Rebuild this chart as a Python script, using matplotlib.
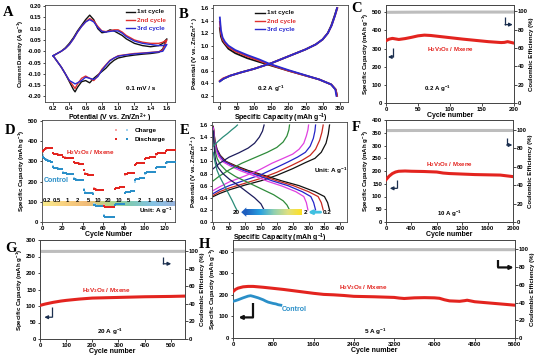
import numpy as np
import matplotlib
matplotlib.use("Agg")
import matplotlib.pyplot as plt
from matplotlib.colors import LinearSegmentedColormap

plt.rcParams['font.family'] = ['Liberation Sans', 'DejaVu Sans']
plt.rcParams['font.weight'] = 'bold'
plt.rcParams['axes.labelweight'] = 'bold'
plt.rcParams['font.size'] = 4.5
plt.rcParams['mathtext.fontset'] = 'custom'
plt.rcParams['mathtext.rm'] = 'Liberation Sans:bold'
plt.rcParams['mathtext.default'] = 'rm'

RED = '#e3241f'
BLUE = '#2a8fc8'
GRAY = '#bdbdbd'
NAVY = '#1b2f4f'
MAT = 'H$_2$V$_3$O$_8$ / Mxene'
CAP = 'Specific Capacity (mAh g$^{-1}$)'
CE = 'Coulombic Efficiency (%)'
TICK = 4.2
YLAB = 4.4
XLAB = 5.0
TXT = 4.6

# ---------- A: CV ----------
cv_pot = [0.2, 0.25, 0.3, 0.35, 0.4, 0.45, 0.5, 0.55, 0.6, 0.65, 0.7, 0.75, 0.8, 0.85, 0.9, 0.95, 1.0, 1.05, 1.1,
          1.2, 1.3, 1.4, 1.5, 1.55, 1.6,
          1.55, 1.5, 1.4, 1.3, 1.2, 1.1, 1.0, 0.95, 0.9, 0.85, 0.8, 0.75, 0.7, 0.65, 0.6, 0.55, 0.5, 0.47, 0.45,
          0.4, 0.35, 0.3, 0.25, 0.2]
cv_1st = [-0.02, -0.01, 0.0, 0.015, 0.035, 0.06, 0.09, 0.115, 0.14, 0.16, 0.14, 0.1, 0.082, 0.085, 0.095, 0.09, 0.08,
          0.07, 0.055, 0.035, 0.025, 0.02, 0.025, 0.035, 0.055,
          0.01, -0.005, -0.01, -0.013, -0.017, -0.022, -0.03, -0.04, -0.055, -0.075, -0.09, -0.105, -0.12, -0.14,
          -0.13, -0.135, -0.16, -0.18, -0.17, -0.135, -0.1, -0.07, -0.045, -0.02]
cv_2nd = [-0.02, -0.01, 0.0, 0.012, 0.03, 0.055, 0.085, 0.11, 0.13, 0.145, 0.135, 0.11, 0.09, 0.087, 0.09, 0.095, 0.095,
          0.085, 0.07, 0.05, 0.04, 0.035, 0.035, 0.04, 0.05,
          0.005, -0.002, -0.005, -0.008, -0.01, -0.015, -0.02, -0.03, -0.04, -0.06, -0.08, -0.11, -0.13, -0.12,
          -0.11, -0.12, -0.145, -0.165, -0.155, -0.13, -0.1, -0.07, -0.045, -0.02]
cv_3rd = [-0.02, -0.01, 0.0, 0.012, 0.03, 0.055, 0.085, 0.11, 0.13, 0.14, 0.13, 0.105, 0.088, 0.085, 0.088, 0.09, 0.09,
          0.08, 0.065, 0.045, 0.035, 0.03, 0.025, 0.025, 0.03,
          0.0, -0.003, -0.006, -0.009, -0.012, -0.016, -0.022, -0.03, -0.042, -0.062, -0.085, -0.112, -0.125, -0.12,
          -0.115, -0.13, -0.14, -0.145, -0.14, -0.13, -0.1, -0.07, -0.045, -0.02]

# ---------- B: GCD 0.2 A/g ----------
b_dis_cap = [[0, 3, 8, 15, 25, 45, 80, 115, 145, 200, 245, 290, 325, 338, 342],
             [0, 3, 8, 15, 25, 45, 80, 115, 145, 200, 245, 290, 325, 338, 342],
             [0, 3, 8, 15, 25, 45, 80, 115, 145, 200, 245, 290, 325, 337, 340]]
b_dis_v = [[1.28, 1.15, 1.07, 1.02, 0.95, 0.88, 0.8, 0.74, 0.69, 0.6, 0.53, 0.46, 0.38, 0.3, 0.2],
           [1.38, 1.2, 1.1, 1.04, 0.98, 0.91, 0.83, 0.76, 0.7, 0.6, 0.53, 0.46, 0.38, 0.3, 0.2],
           [1.45, 1.25, 1.13, 1.06, 1.0, 0.93, 0.85, 0.78, 0.71, 0.61, 0.535, 0.46, 0.38, 0.3, 0.2]]
b_chg_cap = [[0, 10, 30, 60, 100, 150, 200, 250, 280, 300, 315, 325, 335, 342],
             [0, 10, 30, 60, 100, 150, 200, 250, 280, 300, 315, 326, 336, 343],
             [0, 10, 30, 60, 100, 150, 200, 250, 280, 300, 315, 326, 336, 342]]
b_chg_v = [[0.43, 0.47, 0.52, 0.57, 0.63, 0.72, 0.83, 0.94, 1.02, 1.1, 1.2, 1.32, 1.48, 1.6],
           [0.44, 0.48, 0.52, 0.57, 0.63, 0.72, 0.83, 0.94, 1.02, 1.1, 1.2, 1.32, 1.48, 1.6],
           [0.43, 0.47, 0.52, 0.57, 0.63, 0.72, 0.83, 0.94, 1.02, 1.1, 1.2, 1.32, 1.48, 1.6]]
cycle_labels = ['1st cycle', '2nd cycle', '3rd cycle']
cycle_colors = ['#111111', '#e03030', '#2a2ad0']

# ---------- C: 0.2 A/g cycling ----------
c_cyc = [1, 5, 10, 15, 20, 30, 40, 50, 60, 70, 80, 90, 100, 120, 140, 160, 180, 185, 190, 195, 200]
c_cap = [345, 352, 356, 353, 350, 355, 362, 370, 374, 372, 368, 364, 360, 352, 345, 338, 333, 334, 338, 334, 330]
c_ce_cyc = [1, 50, 100, 150, 200]
c_ce = [99, 99.2, 99.3, 99.3, 99.3]

# ---------- D: rate ----------
d_rates = ['0.2', '0.5', '1', '2', '5', '10', '20', '10', '5', '2', '1', '0.5', '0.2']
d_mx_dis = [[352, 358, 362, 364, 365, 366, 366, 365, 365, 364],
            [340, 337, 336, 335, 335, 334, 334, 334, 333, 333],
            [322, 319, 318, 318, 317, 317, 317, 316, 316, 316],
            [296, 292, 291, 290, 290, 289, 289, 289, 288, 288],
            [255, 240, 237, 236, 235, 235, 234, 234, 234, 234],
            [165, 161, 160, 160, 159, 159, 159, 159, 158, 158],
            [80, 74, 73, 73, 72, 72, 72, 72, 72, 72],
            [165, 168, 169, 170, 170, 171, 171, 171, 172, 172],
            [236, 239, 240, 241, 241, 242, 242, 242, 243, 243],
            [284, 288, 290, 291, 291, 292, 292, 292, 293, 293],
            [314, 317, 318, 319, 319, 320, 320, 320, 321, 321],
            [336, 339, 340, 341, 341, 342, 342, 342, 343, 343],
            [352, 355, 357, 358, 358, 358, 357, 357, 356, 355]]
d_mx_chg = [[348, 356, 360, 363, 364, 365, 365, 365, 364, 364],
            [342, 338, 337, 336, 335, 335, 334, 334, 334, 333],
            [324, 320, 319, 318, 318, 317, 317, 317, 316, 316],
            [298, 293, 291, 291, 290, 290, 289, 289, 289, 288],
            [258, 242, 238, 236, 236, 235, 235, 234, 234, 234],
            [168, 162, 161, 160, 160, 159, 159, 159, 159, 158],
            [84, 75, 74, 73, 73, 72, 72, 72, 72, 72],
            [162, 168, 169, 170, 170, 171, 171, 171, 171, 172],
            [233, 239, 240, 241, 241, 242, 242, 242, 242, 243],
            [281, 288, 290, 291, 291, 292, 292, 292, 292, 293],
            [312, 317, 318, 319, 319, 320, 320, 320, 320, 321],
            [334, 339, 340, 341, 341, 342, 342, 342, 342, 343],
            [350, 355, 357, 358, 358, 358, 357, 357, 356, 355]]
d_ct_dis = [[322, 316, 312, 309, 306, 304, 302, 300, 298, 297],
            [272, 268, 266, 265, 265, 264, 264, 264, 263, 263],
            [245, 242, 241, 240, 240, 239, 239, 239, 238, 238],
            [214, 211, 210, 210, 209, 209, 209, 208, 208, 208],
            [160, 146, 144, 143, 143, 142, 142, 142, 142, 141],
            [86, 82, 81, 81, 80, 80, 80, 80, 80, 80],
            [30, 26, 25, 25, 25, 24, 24, 24, 24, 24],
            [85, 88, 89, 90, 90, 90, 91, 91, 91, 91],
            [146, 149, 150, 151, 151, 151, 152, 152, 152, 152],
            [208, 212, 214, 215, 215, 216, 216, 216, 217, 217],
            [242, 245, 246, 247, 247, 248, 248, 248, 248, 249],
            [267, 270, 271, 272, 272, 273, 273, 273, 273, 274],
            [292, 295, 296, 297, 297, 297, 297, 297, 296, 296]]
d_ct_chg = [[330, 318, 313, 310, 307, 305, 303, 301, 299, 298],
            [275, 269, 267, 266, 265, 265, 264, 264, 264, 263],
            [248, 243, 241, 240, 240, 240, 239, 239, 239, 238],
            [217, 212, 211, 210, 210, 209, 209, 209, 208, 208],
            [165, 148, 145, 144, 143, 143, 142, 142, 142, 142],
            [90, 83, 82, 81, 81, 80, 80, 80, 80, 80],
            [34, 27, 26, 25, 25, 25, 24, 24, 24, 24],
            [82, 87, 89, 90, 90, 90, 90, 91, 91, 91],
            [143, 149, 150, 151, 151, 151, 152, 152, 152, 152],
            [200, 211, 214, 215, 215, 216, 216, 216, 216, 217],
            [240, 245, 246, 247, 247, 248, 248, 248, 248, 249],
            [265, 270, 271, 272, 272, 273, 273, 273, 273, 274],
            [290, 294, 296, 297, 297, 297, 297, 297, 296, 296]]

# ---------- E: GCD at different rates ----------
e_rates = ['0.2', '0.5', '1', '2', '5', '10', '20']
e_colors = ['#111111', '#c8281e', '#2424c8', '#e040e0', '#2e8b3a', '#1c1c5c', '#2a8c78']
e_dis_cap = [[0, 5, 12, 22, 40, 70, 110, 160, 215, 270, 320, 350, 360, 366],
             [0, 5, 11, 20, 37, 65, 102, 150, 200, 252, 300, 330, 340, 346],
             [0, 4, 10, 19, 34, 60, 95, 140, 185, 235, 280, 307, 316, 322],
             [0, 4, 9, 17, 31, 55, 88, 130, 172, 218, 260, 285, 293, 298],
             [0, 3, 7, 12, 22, 40, 70, 110, 150, 190, 220, 232, 240],
             [0, 2, 5, 8, 15, 30, 52, 80, 105, 130, 150, 160],
             [0, 3, 7, 12, 20, 30, 40, 50, 60, 69, 74]]
e_dis_v = [[1.58, 1.35, 1.2, 1.1, 1.0, 0.93, 0.85, 0.77, 0.68, 0.6, 0.5, 0.42, 0.32, 0.2],
           [1.57, 1.35, 1.2, 1.1, 1.0, 0.93, 0.85, 0.77, 0.68, 0.6, 0.5, 0.42, 0.32, 0.2],
           [1.56, 1.35, 1.2, 1.1, 1.0, 0.93, 0.85, 0.77, 0.68, 0.6, 0.5, 0.42, 0.32, 0.2],
           [1.55, 1.33, 1.18, 1.08, 0.99, 0.92, 0.84, 0.76, 0.67, 0.59, 0.5, 0.42, 0.32, 0.2],
           [1.5, 1.3, 1.15, 1.05, 0.95, 0.85, 0.75, 0.65, 0.55, 0.45, 0.35, 0.28, 0.2],
           [1.5, 1.3, 1.1, 1.0, 0.9, 0.8, 0.7, 0.6, 0.5, 0.4, 0.3, 0.2],
           [1.15, 1.05, 0.95, 0.85, 0.75, 0.65, 0.55, 0.45, 0.35, 0.25, 0.2]]
e_chg_cap = [[0, 20, 50, 100, 150, 200, 250, 290, 320, 340, 355, 362, 366],
             [0, 20, 50, 100, 150, 200, 245, 280, 305, 322, 335, 342, 346],
             [0, 20, 50, 100, 150, 195, 235, 265, 290, 305, 315, 320, 322],
             [0, 20, 50, 100, 145, 185, 220, 250, 270, 285, 293, 298, 300],
             [0, 20, 50, 90, 130, 170, 200, 220, 232, 238, 240],
             [0, 20, 50, 80, 110, 130, 145, 155, 160],
             [0, 15, 30, 45, 58, 70, 76]]
e_chg_v = [[0.42, 0.47, 0.53, 0.61, 0.68, 0.77, 0.88, 0.98, 1.05, 1.15, 1.3, 1.45, 1.6],
           [0.44, 0.5, 0.56, 0.64, 0.72, 0.82, 0.93, 1.02, 1.1, 1.2, 1.35, 1.48, 1.6],
           [0.47, 0.53, 0.6, 0.69, 0.78, 0.89, 0.99, 1.07, 1.15, 1.25, 1.38, 1.5, 1.6],
           [0.52, 0.58, 0.66, 0.76, 0.86, 0.97, 1.05, 1.12, 1.2, 1.3, 1.42, 1.52, 1.6],
           [0.68, 0.76, 0.86, 0.97, 1.06, 1.15, 1.23, 1.32, 1.42, 1.52, 1.6],
           [0.88, 0.97, 1.07, 1.14, 1.22, 1.3, 1.4, 1.5, 1.6],
           [1.25, 1.33, 1.4, 1.46, 1.52, 1.57, 1.6]]

# ---------- F: 10 A/g ----------
f_cyc = [1, 50, 100, 150, 200, 300, 400, 600, 800, 900, 1000, 1200, 1400, 1600, 1800, 2000]
f_cap = [166, 180, 190, 196, 199, 200, 199, 198, 196, 192, 190, 188, 186, 185, 184, 178]
f_ce_cyc = [1, 500, 1000, 1500, 2000]
f_ce = [99.5, 99.6, 99.6, 99.6, 99.6]

# ---------- G: 20 A/g ----------
g_cyc = [1, 20, 50, 80, 100, 150, 200, 250, 300, 400, 500, 555]
g_cap = [102, 106, 111, 115, 117, 121, 124, 125, 126, 128, 129, 130]
g_ce_cyc = [1, 200, 400, 555]
g_ce = [99.5, 99.6, 99.6, 99.6]

# ---------- H: 5 A/g ----------
h_cyc = [1, 50, 100, 200, 300, 400, 500, 600, 800, 1000, 1200, 1400, 1600, 1800, 2000, 2200, 2400, 2800, 3200,
         3300, 3400, 3600, 3800, 4000, 4100, 4200, 4300, 4500, 4600, 4650, 4800, 5000, 5200, 5400, 5600]
h_cap = [215, 225, 231, 237, 239, 239, 237, 235, 230, 225, 219, 213, 207, 202, 200, 197, 193, 191, 188,
         185, 183, 186, 187, 186, 184, 177, 172, 170, 173, 175, 168, 164, 160, 156, 152]
h_ctl_cyc = [1, 50, 100, 200, 300, 350, 400, 500, 600, 650, 700, 750, 800, 850, 900, 950]
h_ctl_cap = [170, 173, 177, 186, 194, 196, 193, 186, 177, 171, 166, 163, 160, 158, 154, 152]
h_ce_cyc = [1, 1000, 3000, 5600]
h_ce = [99.5, 99.6, 99.6, 99.6]

fig = plt.figure(figsize=(5.56, 3.6), dpi=100)
W, H = 556.0, 360.0


def add_ax(l, r, t, b):
    return fig.add_axes([l / W, 1 - b / H, (r - l) / W, (b - t) / H])


def style(ax):
    ax.tick_params(labelsize=TICK, length=1.8, width=0.5, pad=1.0, direction='out')
    for s in ax.spines.values():
        s.set_linewidth(0.6)
        s.set_color('#444444')


def l_arrow(ax, x0, y0, y1, x2, color=NAVY, lw=0.9):
    ax.plot([x0, x0], [y0, y1], transform=ax.transAxes, color=color, lw=lw, solid_capstyle='butt', clip_on=False)
    ax.annotate('', xy=(x2, y1), xytext=(x0, y1), xycoords='axes fraction',
                arrowprops=dict(arrowstyle='-|>', color=color, lw=lw, mutation_scale=5, shrinkA=0, shrinkB=0))


def letter(x, y, s):
    fig.text(x / W, 1 - y / H, s, family='Liberation Serif', weight='bold', fontsize=10.5, va='center', ha='left')


def cycling(ax, cyc, cap, ce_cyc, ce, xlim, ylim, ylim2, xticks, yticks):
    style(ax)
    ax2 = ax.twinx()
    style(ax2)
    ax2.plot(ce_cyc, ce, color=GRAY, lw=2.2, zorder=1)
    ax.plot(cyc, cap, color=RED, lw=2.2, zorder=3)
    ax.set_xlim(*xlim)
    ax.set_ylim(*ylim)
    ax2.set_ylim(*ylim2)
    ax.set_xticks(xticks)
    ax.set_yticks(yticks)
    ax2.set_yticks(np.arange(0, 101, 20))
    ax.set_ylabel(CAP, fontsize=YLAB, labelpad=0.8)
    ax2.set_ylabel(CE, fontsize=YLAB, labelpad=0.8)
    ax.set_xlabel('Cycle number', fontsize=XLAB, labelpad=0.3)
    ax.set_zorder(ax2.get_zorder() + 1)
    ax.patch.set_visible(False)
    return ax2


# ---- A
axA = add_ax(45, 175, 5, 102)
style(axA)
for yv, lab, col in zip([cv_1st, cv_2nd, cv_3rd], cycle_labels, cycle_colors):
    axA.plot(cv_pot, yv, color=col, lw=1.0)
axA.set_xlim(0.1, 1.7)
axA.set_ylim(-0.225, 0.205)
axA.set_xticks(np.arange(0.2, 1.61, 0.2))
axA.set_yticks(np.arange(-0.2, 0.201, 0.05))
axA.xaxis.set_major_formatter(matplotlib.ticker.FormatStrFormatter('%.1f'))
axA.yaxis.set_major_formatter(matplotlib.ticker.FormatStrFormatter('%.2f'))
axA.set_xlabel('Potential (V vs. Zn/Zn$^{2+}$)', fontsize=XLAB, labelpad=0.3)
axA.set_ylabel('Current Density (A g$^{-1}$)', fontsize=YLAB, labelpad=0.8)
axA.text(1.28, -0.165, '0.1 mV / s', fontsize=TXT, ha='center', va='center')
for i, (lab, col) in enumerate(zip(cycle_labels, cycle_colors)):
    yy = 0.93 - 0.085 * i
    axA.plot([0.62, 0.69], [yy, yy], color=col, lw=1.0, transform=axA.transAxes)
    axA.text(0.71, yy, lab, color=col, fontsize=TXT, va='center', transform=axA.transAxes)

# ---- B
axB = add_ax(213, 348, 5, 102)
style(axB)
for i in range(3):
    axB.plot(b_dis_cap[i], b_dis_v[i], color=cycle_colors[i], lw=1.3)
    axB.plot(b_chg_cap[i], b_chg_v[i], color=cycle_colors[i], lw=1.3)
axB.set_xlim(-20, 374)
axB.set_ylim(0.1, 1.65)
axB.set_xticks(np.arange(0, 351, 50))
axB.set_yticks(np.arange(0.2, 1.61, 0.2))
axB.yaxis.set_major_formatter(matplotlib.ticker.FormatStrFormatter('%.1f'))
axB.set_xlabel('Specific Capacity (mAh g$^{-1}$)', fontsize=XLAB, labelpad=0.3)
axB.set_ylabel('Potential (V vs. Zn/Zn$^{2+}$)', fontsize=YLAB, labelpad=0.8)
axB.text(150, 0.31, '0.2 A g$^{-1}$', fontsize=TXT, ha='center', va='center')
for i, (lab, col) in enumerate(zip(cycle_labels, cycle_colors)):
    yy = 0.92 - 0.085 * i
    axB.plot([0.31, 0.385], [yy, yy], color=col, lw=1.0, transform=axB.transAxes)
    axB.text(0.40, yy, lab, color=col, fontsize=TXT, va='center', transform=axB.transAxes)

# ---- C
axC = add_ax(386, 514, 5, 103)
axC2 = cycling(axC, c_cyc, c_cap, c_ce_cyc, c_ce, (0, 200), (0, 540), (0, 107),
               np.arange(0, 201, 50), np.arange(0, 501, 100))
axC.text(100, 297, MAT, color=RED, fontsize=4.4, ha='center', va='center')
axC.text(80, 80, '0.2 A g$^{-1}$', fontsize=4.4, ha='center', va='center')
l_arrow(axC, 0.055, 0.56, 0.47, 0.015)
l_arrow(axC, 0.93, 0.88, 0.80, 0.99)

# ---- D
axD = add_ax(42, 175, 120, 222)
style(axD)
cmap_d = LinearSegmentedColormap.from_list('d', ['#f8e878', '#f8c868', '#f0b060', '#a8d070', '#68c0a8',
                                                  '#70b8e0', '#88a8d8'])
axD.imshow(np.linspace(0, 1, 256).reshape(1, -1), cmap=cmap_d, aspect='auto', extent=(0.5, 129, 80, 100),
           alpha=0.85, zorder=0)
for k in range(13):
    cyc = np.arange(10 * k + 1, 10 * k + 11)
    axD.plot(cyc, d_mx_chg[k], 's', color='#f6a8a8', ms=1.8, mew=0, zorder=2)
    axD.plot(cyc, d_ct_chg[k], 's', color='#a6d4f0', ms=1.8, mew=0, zorder=2)
    axD.plot(cyc, d_mx_dis[k], 's', color=RED, ms=1.8, mew=0, zorder=3)
    axD.plot(cyc, d_ct_dis[k], 's', color=BLUE, ms=1.8, mew=0, zorder=3)
    axD.text(10 * k + 5, 106, d_rates[k], fontsize=4.2, ha='center', va='center', zorder=4)
axD.set_xlim(0, 130)
axD.set_ylim(0, 505)
axD.set_xticks(np.arange(0, 121, 20))
axD.set_yticks(np.arange(0, 501, 100))
axD.set_xlabel('Cycle Number', fontsize=XLAB, labelpad=0.3)
axD.set_ylabel(CAP, fontsize=YLAB, labelpad=0.8)
axD.text(47, 345, MAT, color=RED, fontsize=TXT, ha='center', va='center')
axD.text(14, 205, 'Control', color=BLUE, fontsize=5, ha='center', va='center')
axD.text(128, 55, 'Unit: A g$^{-1}$', fontsize=TXT, ha='right', va='center')
axD.plot([0.56], [0.90], 's', color='#f6a8a8', ms=2.0, mew=0, transform=axD.transAxes)
axD.plot([0.64], [0.90], 's', color='#a6d4f0', ms=2.0, mew=0, transform=axD.transAxes)
axD.plot([0.56], [0.81], 's', color=RED, ms=2.0, mew=0, transform=axD.transAxes)
axD.plot([0.64], [0.81], 's', color=BLUE, ms=2.0, mew=0, transform=axD.transAxes)
axD.text(0.70, 0.90, 'Charge', fontsize=TXT, va='center', transform=axD.transAxes)
axD.text(0.70, 0.81, 'Discharge', fontsize=TXT, va='center', transform=axD.transAxes)

# ---- E
axE = add_ax(212, 347, 122, 222)
style(axE)
for i in range(len(e_rates)):
    axE.plot(e_dis_cap[i], e_dis_v[i], color=e_colors[i], lw=0.9)
    axE.plot(e_chg_cap[i], e_chg_v[i], color=e_colors[i], lw=0.9)
cmap_e = LinearSegmentedColormap.from_list('e', ['#1f5fbf', '#28a0e0', '#90d0b0', '#e0e080', '#ffe020'])
axE.imshow(np.linspace(0, 1, 256).reshape(1, -1), cmap=cmap_e, aspect='auto', extent=(104, 280, 0.12, 0.205),
           zorder=3)
axE.fill([104, 104, 88], [0.085, 0.24, 0.162], color='#1f5fbf', zorder=3, lw=0)
axE.text(84, 0.162, '20', fontsize=TXT, ha='right', va='center')
axE.text(290, 0.162, '2', fontsize=TXT, ha='center', va='center')
axE.annotate('', xy=(298, 0.162), xytext=(338, 0.162),
             arrowprops=dict(arrowstyle='-|>', color='#40c0e0', lw=2.0, mutation_scale=5, shrinkA=0, shrinkB=0))
axE.text(357, 0.162, '0.2', fontsize=TXT, ha='center', va='center')
axE.text(370, 0.85, 'Unit: A g$^{-1}$', fontsize=TXT, ha='center', va='center')
axE.set_xlim(-4, 421)
axE.set_ylim(0, 1.65)
axE.set_xticks(np.arange(0, 401, 50))
axE.set_yticks(np.arange(0, 1.61, 0.2))
axE.yaxis.set_major_formatter(matplotlib.ticker.FormatStrFormatter('%.1f'))
axE.set_xlabel('Specific Capacity (mAh g$^{-1}$)', fontsize=XLAB, labelpad=0.3)
axE.set_ylabel('Potential (V vs. Zn/Zn$^{2+}$)', fontsize=YLAB, labelpad=0.8)

# ---- F
axF = add_ax(386, 513, 120, 222)
axF2 = cycling(axF, f_cyc, f_cap, f_ce_cyc, f_ce, (0, 2000), (0, 400), (0, 111),
               np.arange(0, 2001, 400), np.arange(0, 401, 50))
axF.text(1000, 224, MAT, color=RED, fontsize=4.4, ha='center', va='center')
axF.text(1000, 33, '10 A g$^{-1}$', fontsize=4.4, ha='center', va='center')
l_arrow(axF, 0.087, 0.41, 0.33, 0.03)
l_arrow(axF, 0.95, 0.82, 0.755, 0.995)

# ---- G
axG = add_ax(40, 185, 240, 339)
axG2 = cycling(axG, g_cyc, g_cap, g_ce_cyc, g_ce, (0, 555), (0, 300), (0, 112.5),
               np.arange(0, 501, 100), np.arange(0, 301, 50))
axG.text(255, 148, MAT, color=RED, fontsize=TXT, ha='center', va='center')
axG.text(268, 22, '20 A g$^{-1}$', fontsize=TXT, ha='center', va='center')
l_arrow(axG, 0.083, 0.32, 0.22, 0.03)
l_arrow(axG, 0.85, 0.83, 0.76, 0.905)

# ---- H
axH = add_ax(233, 515, 240, 338)
axH2 = cycling(axH, h_cyc, h_cap, h_ce_cyc, h_ce, (0, 5600), (0, 454), (0, 110.5),
               np.arange(0, 5601, 800), np.arange(0, 401, 100))
axH.plot(h_ctl_cyc, h_ctl_cap, color=BLUE, lw=2.0, zorder=3)
axH.text(2580, 232, MAT, color=RED, fontsize=TXT, ha='center', va='center')
axH.text(1210, 130, 'Control', color=BLUE, fontsize=5, ha='center', va='center')
axH.text(2820, 30, '5 A g$^{-1}$', fontsize=TXT, ha='center', va='center')
l_arrow(axH, 0.071, 0.36, 0.21, 0.02, color='#111111', lw=1.6)
l_arrow(axH, 0.94, 0.80, 0.72, 0.995, color='#111111', lw=1.6)

letter(3, 13, 'A')
letter(179, 14, 'B')
letter(351, 9, 'C')
letter(5, 131, 'D')
letter(180, 131, 'E')
letter(352, 127, 'F')
letter(5, 248, 'G')
letter(199, 244, 'H')

fig.savefig('out.png', dpi=100)
